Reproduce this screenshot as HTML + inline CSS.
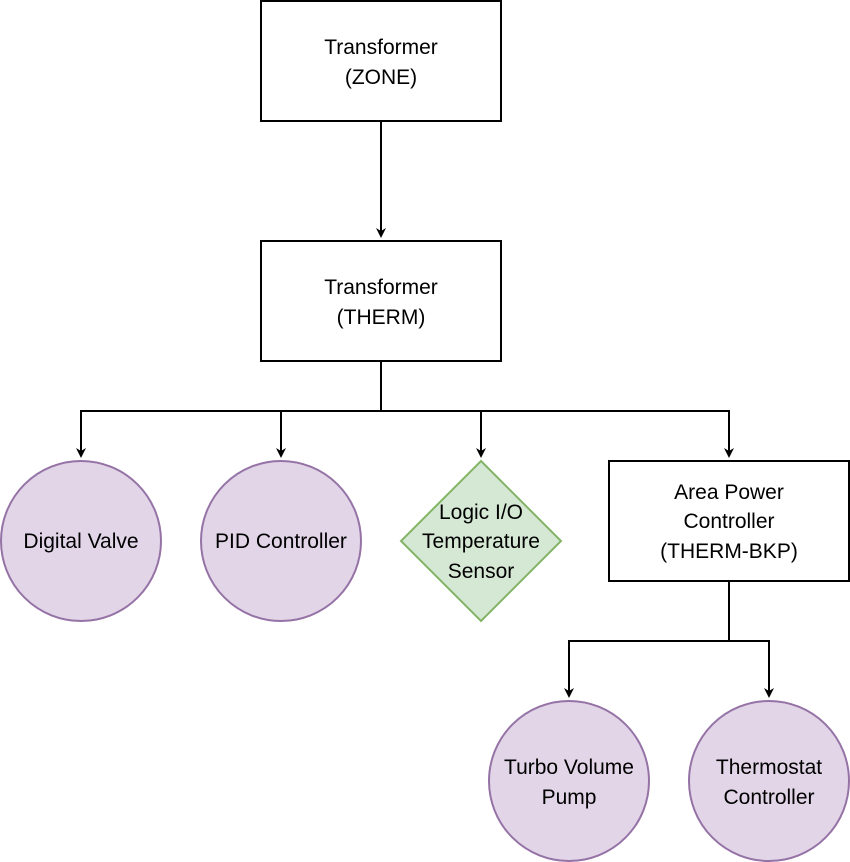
<!DOCTYPE html>
<html><head><meta charset="utf-8"><style>
html,body{margin:0;padding:0;background:#fff;}
svg{display:block;}
text{font-family:"Liberation Sans",Arial,sans-serif;font-size:21px;fill:#000;text-anchor:middle;}
</style></head><body>
<svg width="850" height="862" viewBox="0 0 850 862" xmlns="http://www.w3.org/2000/svg">
<defs><marker id="a" markerWidth="10" markerHeight="10" refX="5" refY="5" orient="auto" markerUnits="userSpaceOnUse"><path d="M0,0 L10,5 L0,10 L3,5 z" fill="#000"/></marker></defs>
<g fill="none" stroke="#000" stroke-width="2">
<rect x="261" y="1" width="240" height="120"/>
<rect x="261" y="241" width="240" height="120"/>
<rect x="609" y="461" width="240" height="120"/>
</g>
<g fill="none" stroke="#000" stroke-width="2">
<path d="M381,121 V233" marker-end="url(#a)"/>
<path d="M381,361 V411 H81 V453" marker-end="url(#a)"/>
<path d="M381,411 H281 V453" marker-end="url(#a)"/>
<path d="M381,411 H481 V453" marker-end="url(#a)"/>
<path d="M381,411 H729 V453" marker-end="url(#a)"/>
<path d="M729,581 V641 H569 V693" marker-end="url(#a)"/>
<path d="M729,641 H769 V693" marker-end="url(#a)"/>
</g>
<g fill="#e1d5e7" stroke="#9673a6" stroke-width="2">
<circle cx="81" cy="541" r="80"/>
<circle cx="281" cy="541" r="80"/>
<circle cx="569" cy="781" r="80"/>
<circle cx="769" cy="781" r="80"/>
</g>
<polygon points="481,461 561,541 481,621 401,541" fill="#d5e8d4" stroke="#82b366" stroke-width="2"/>
<text x="381" y="54">Transformer</text>
<text x="381" y="84">(ZONE)</text>
<text x="381" y="294">Transformer</text>
<text x="381" y="324">(THERM)</text>
<text x="81" y="548">Digital Valve</text>
<text x="281" y="548">PID Controller</text>
<text x="481" y="519">Logic I/O</text>
<text x="481" y="548">Temperature</text>
<text x="481" y="578">Sensor</text>
<text x="729" y="499">Area Power</text>
<text x="729" y="528">Controller</text>
<text x="729" y="558">(THERM-BKP)</text>
<text x="569" y="774">Turbo Volume</text>
<text x="569" y="804">Pump</text>
<text x="769" y="774">Thermostat</text>
<text x="769" y="804">Controller</text>
</svg>
</body></html>
